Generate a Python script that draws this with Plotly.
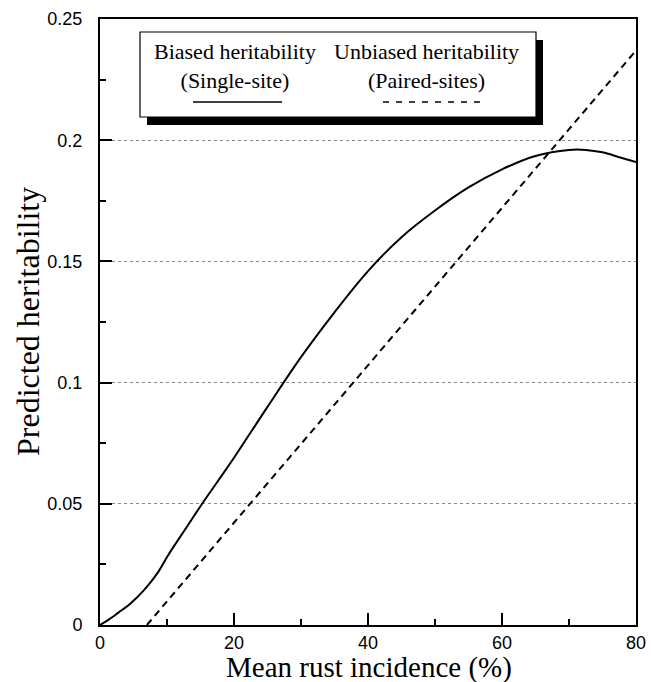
import plotly.graph_objects as go

# Data
biased_x = [0, 1.2, 2.7, 4.6, 6.6, 8.6, 10.1, 12.6, 15, 17.5, 20, 25, 30, 35, 40,
            45, 50, 55, 60, 65, 70, 72.5, 75, 77.5, 80]
biased_y = [0, 0.002, 0.005, 0.009, 0.0145, 0.0215, 0.0285, 0.039, 0.049, 0.059,
            0.069, 0.090, 0.1105, 0.129, 0.146, 0.160, 0.171, 0.1805, 0.188,
            0.1935, 0.196, 0.196, 0.195, 0.193, 0.191]
unbiased_x = [7, 80]
unbiased_y = [0, 0.237]

x_ticks = [0, 20, 40, 60, 80]
y_ticks = [0, 0.05, 0.1, 0.15, 0.2, 0.25]
y_tick_labels = ["0", "0.05", "0.1", "0.15", "0.2", "0.25"]

legend_names = ["Biased heritability<br>(Single-site)",
                "Unbiased heritability<br>(Paired-sites)"]
x_title = "Mean rust incidence (%)"
y_title = "Predicted heritability"

fig = go.Figure()
fig.add_trace(go.Scatter(x=biased_x, y=biased_y, mode="lines",
                         line=dict(color="black", width=2, shape="spline", smoothing=1.0),
                         showlegend=False))
fig.add_trace(go.Scatter(x=unbiased_x, y=unbiased_y, mode="lines",
                         line=dict(color="black", width=2, dash="7px,5px"),
                         showlegend=False))

# Page geometry (body margin is removed by post_script below)
W, H = 651, 682
# plot area edges in screenshot pixels
PL, PR, PT, PB = 100, 636, 19, 625
L, R, T, B = PL, W - PR, PT, H - PB
pw, ph = PR - PL, PB - PT


def px(x):
    return (x - PL) / pw


def py(y):
    return (PB - y) / ph


serif = "Liberation Serif"
sans = "Liberation Sans"

# Legend: shadow, box, texts, line samples
fig.add_shape(type="rect", xref="paper", yref="paper",
              x0=px(147), x1=px(543), y0=py(125), y1=py(40),
              fillcolor="black", line=dict(width=0))
fig.add_shape(type="rect", xref="paper", yref="paper",
              x0=px(140), x1=px(536), y0=py(117), y1=py(32),
              fillcolor="white", line=dict(color="black", width=1.2))
fig.add_annotation(xref="paper", yref="paper", x=px(235), y=py(66),
                   text=legend_names[0], showarrow=False,
                   font=dict(family=serif, size=22, color="black"),
                   align="center", xanchor="center", yanchor="middle")
fig.add_annotation(xref="paper", yref="paper", x=px(426), y=py(66),
                   text=legend_names[1], showarrow=False,
                   font=dict(family=serif, size=22, color="black"),
                   align="center", xanchor="center", yanchor="middle")
fig.add_shape(type="line", xref="paper", yref="paper",
              x0=px(193), x1=px(282), y0=py(102), y1=py(102),
              line=dict(color="black", width=1.5))
fig.add_shape(type="line", xref="paper", yref="paper",
              x0=px(383), x1=px(482), y0=py(102), y1=py(102),
              line=dict(color="black", width=1.5, dash="6px,7px"))

# Axis titles
fig.add_annotation(xref="paper", yref="paper", x=px(369), y=py(667),
                   text=x_title, showarrow=False, borderpad=0,
                   font=dict(family=serif, size=29, color="black"),
                   xanchor="center", yanchor="middle")
fig.add_annotation(xref="paper", yref="paper", x=px(28), y=py(322),
                   text=y_title, showarrow=False, textangle=-90,
                   font=dict(family=serif, size=32, color="black"),
                   xanchor="center", yanchor="middle")

fig.update_layout(
    width=W, height=H,
    margin=dict(l=L, r=R, t=T, b=B),
    paper_bgcolor="white", plot_bgcolor="white",
    showlegend=False,
)
fig.update_xaxes(
    range=[0, 80], tickvals=x_ticks, ticks="inside", ticklen=12, tickwidth=1.5,
    tickcolor="black", showline=True, linecolor="black", linewidth=2, mirror=True,
    showgrid=False, zeroline=False, automargin=False,
    minor=dict(ticks="inside", ticklen=6, tickwidth=1.5, tickcolor="black", dtick=10, showgrid=False),
    tickfont=dict(family=sans, size=18, color="black"),
    ticklabelstandoff=0,
)
fig.update_yaxes(
    range=[0, 0.25], tickvals=y_ticks, ticktext=y_tick_labels, ticks="inside",
    ticklen=12, tickwidth=1.5, tickcolor="black",
    showline=True, linecolor="black", linewidth=2, mirror=True,
    showgrid=True, gridcolor="#888888", griddash="dot", gridwidth=1, zeroline=False,
    automargin=False,
    minor=dict(ticks="inside", ticklen=6, tickwidth=1.5, tickcolor="black", dtick=0.025, showgrid=False),
    tickfont=dict(family=sans, size=18, color="black"),
    ticklabelstandoff=12,
)

fig.write_html("out.html", config={"displayModeBar": False},
               post_script="document.body.style.margin='0';document.body.style.overflow='hidden';")
